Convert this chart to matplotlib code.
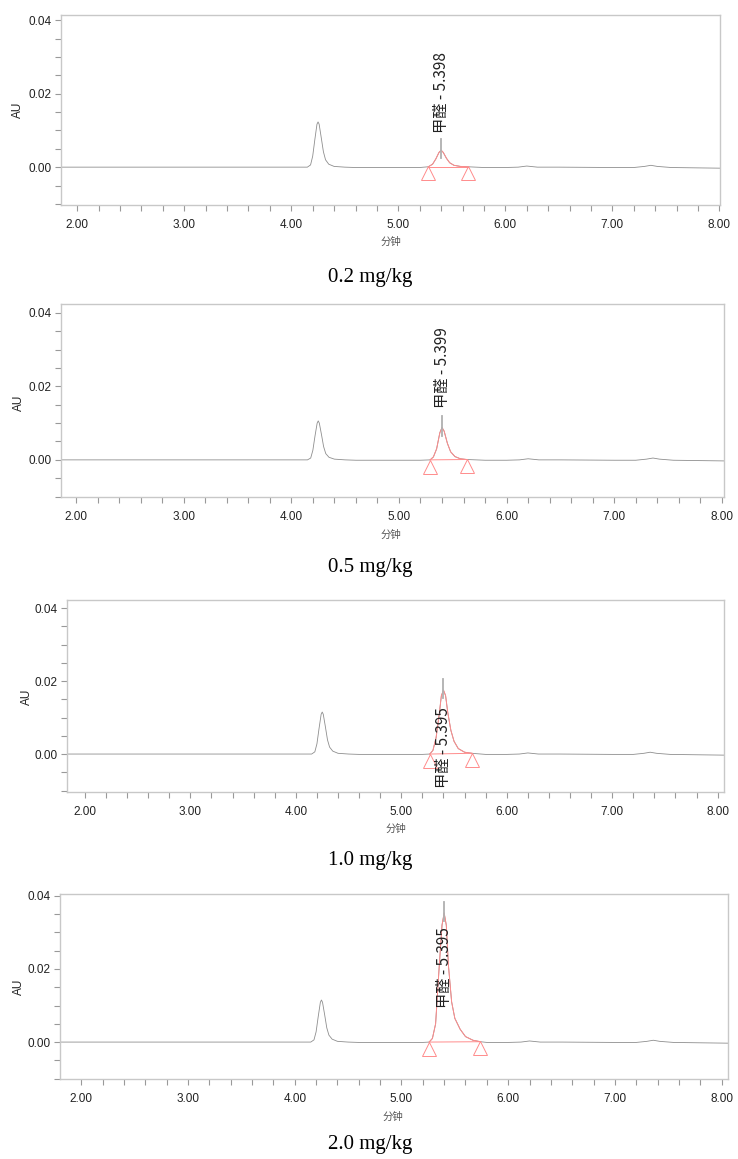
"""Four HPLC chromatograms of formaldehyde spiked at increasing levels."""

import matplotlib

matplotlib.use("Agg")
import matplotlib.pyplot as plt
import numpy as np
from matplotlib.transforms import offset_copy

plt.rcParams["font.family"] = ["Liberation Sans", "Noto Sans CJK SC", "DejaVu Sans"]

CAPTIONS = ["0.2 mg/kg", "0.5 mg/kg", "1.0 mg/kg", "2.0 mg/kg"]
PEAK_NAME = "甲醛"
RET_TIMES = [5.398, 5.399, 5.395, 5.395]

# baseline (minutes, AU)
BASE_T = [1.80, 2.5, 3.0, 3.5, 4.0, 4.12, 4.6, 5.0, 5.2, 5.8, 6.0, 6.12, 6.2,
          6.3, 6.5, 7.0, 7.2, 7.3, 7.36, 7.42, 7.55, 7.8, 8.06]
BASE_AU = [0.0, 0.0, 0.0, 0.0, 0.0, 0.0, -0.0001, -0.0001, -0.0001, -0.0001,
           -0.0001, 0.0, 0.0003, 0.0, 0.0, -0.0001, -0.0001, 0.0002, 0.0005,
           0.0002, -0.0001, -0.0002, -0.0003]

# unassigned peak near 4.25 min
PEAK1_T = [4.15, 4.18, 4.20, 4.22, 4.24, 4.25, 4.26, 4.28, 4.30, 4.32, 4.35, 4.40, 4.50]
PEAK1_AU = [
    [0.0, 0.0006, 0.0030, 0.0075, 0.0117, 0.0123, 0.0117, 0.0080, 0.0042, 0.0020, 0.0008, 0.0002, 0.0],
    [0.0, 0.0005, 0.0026, 0.0065, 0.0100, 0.0106, 0.0100, 0.0069, 0.0036, 0.0017, 0.0007, 0.0002, 0.0],
    [0.0, 0.0006, 0.0028, 0.0070, 0.0109, 0.0115, 0.0109, 0.0075, 0.0039, 0.0019, 0.0008, 0.0002, 0.0],
    [0.0, 0.0006, 0.0028, 0.0070, 0.0109, 0.0115, 0.0109, 0.0075, 0.0039, 0.0019, 0.0008, 0.0002, 0.0],
]

# formaldehyde peak, integration start to end
HCHO_T = [
    [5.28, 5.32, 5.35, 5.38, 5.40, 5.42, 5.45, 5.48, 5.52, 5.58, 5.65],
    [5.29, 5.32, 5.35, 5.38, 5.40, 5.42, 5.45, 5.48, 5.52, 5.57, 5.63],
    [5.27, 5.30, 5.33, 5.36, 5.38, 5.40, 5.42, 5.44, 5.47, 5.50, 5.54, 5.60, 5.67],
    [5.26, 5.29, 5.32, 5.35, 5.38, 5.40, 5.42, 5.44, 5.47, 5.50, 5.55, 5.60, 5.67, 5.74],
]
HCHO_AU = [
    [0.0001, 0.0008, 0.0022, 0.0040, 0.0046, 0.0040, 0.0024, 0.0012, 0.0005, 0.0002, 0.0001],
    [0.0, 0.0008, 0.0030, 0.0074, 0.0088, 0.0078, 0.0045, 0.0022, 0.0009, 0.0003, 0.0001],
    [0.0, 0.0010, 0.0045, 0.0110, 0.0160, 0.0175, 0.0160, 0.0115, 0.0065, 0.0035, 0.0015, 0.0005, 0.0002],
    [0.0, 0.0010, 0.0050, 0.0190, 0.0320, 0.0353, 0.0320, 0.0210, 0.0110, 0.0065, 0.0035, 0.0015, 0.0005, 0.0001],
]

# layout, in pixels of the 738x1159 canvas
W, H = 738, 1159
AX_BOX = [(61, 15, 720, 205), (61, 304, 724, 497), (67, 600, 724, 792), (60, 894, 728, 1079)]
XLIMS = [(1.848, 8.006), (1.86, 8.02), (1.83, 8.06), (1.80, 8.06)]
YLIMS = [(-0.0103, 0.0414), (-0.0101, 0.0424), (-0.0104, 0.0422), (-0.0101, 0.0405)]
AU_POS = [(18, 110), (19, 403), (27, 697), (19, 987)]
MIN_POS = [(391, 242), (391, 535), (396, 829), (393, 1117)]
CAP_POS = [(370, 277), (370, 568), (370, 860), (370, 1145)]
LABEL_Y = [0.0093, 0.0141, -0.0093, 0.0093]

GRAY = "#8e8e8e"
RED = "#ff8c8c"
FRAME = "#c8c8c8"


def trace(i):
    lo1, hi1 = PEAK1_T[0], PEAK1_T[-1]
    lo2, hi2 = HCHO_T[i][0], HCHO_T[i][-1]
    pts = [(t, a) for t, a in zip(BASE_T, BASE_AU)
           if not (lo1 <= t <= hi1 or lo2 <= t <= hi2)]
    pts += list(zip(PEAK1_T, PEAK1_AU[i])) + list(zip(HCHO_T[i], HCHO_AU[i]))
    pts.sort()
    return np.array(pts).T


def fx(px):
    return px / W


def fy(py):
    return 1 - py / H


def main() -> None:
    fig = plt.figure(figsize=(W / 100, H / 100), dpi=100)
    for i, (l, t, r, b) in enumerate(AX_BOX):
        ax = fig.add_axes([fx(l), fy(b), (r - l) / W, (b - t) / H])
        tt, au = trace(i)
        ax.plot(tt, au, color=GRAY, lw=0.6)

        ht, ha = HCHO_T[i], HCHO_AU[i]
        ax.plot(ht, ha, color=RED, lw=0.7)
        ax.plot([ht[0], ht[-1]], [ha[0], ha[-1]], color=RED, lw=0.7)
        tri = offset_copy(ax.transData, fig=fig, y=-4.8, units="points")
        ax.plot([ht[0], ht[-1]], [ha[0], ha[-1]], "^", ms=9.5, mfc="none",
                mec=RED, mew=0.7, transform=tri)
        apex = max(ha)
        ax.plot([RET_TIMES[i]] * 2, [apex - 0.0022, apex + 0.003], color="#b0b0b0", lw=1.3)
        ax.text(RET_TIMES[i] + 0.005, LABEL_Y[i], f"{PEAK_NAME} - {RET_TIMES[i]:.3f}",
                rotation=90, ha="center", va="bottom", fontsize=11, color="#222222",
                family=["Noto Sans CJK SC", "DejaVu Sans"])

        ax.set_xlim(*XLIMS[i])
        ax.set_ylim(*YLIMS[i])
        ax.set_xticks(np.arange(2, 9))
        ax.set_xticklabels([f"{v:.2f}" for v in range(2, 9)])
        ax.set_xticks(np.arange(2, 8.01, 0.2), minor=True)
        ax.set_yticks([0.0, 0.02, 0.04])
        ax.set_yticklabels(["0.00", "0.02", "0.04"])
        ax.set_yticks(np.arange(-0.01, 0.0401, 0.005), minor=True)
        ax.tick_params(which="both", direction="out", length=4, width=0.8,
                       color="#999999", labelsize=8.5, labelcolor="#222222")
        ax.tick_params(axis="x", pad=6)
        ax.tick_params(axis="y", pad=3)
        for s in ax.spines.values():
            s.set_color(FRAME)
            s.set_linewidth(1.0)

        fig.text(fx(AU_POS[i][0]), fy(AU_POS[i][1]), "AU", rotation=90,
                 ha="center", va="center", fontsize=8.5, color="#222222")
        fig.text(fx(MIN_POS[i][0]), fy(MIN_POS[i][1]), "分钟", ha="center", va="center",
                 fontsize=7.5, color="#555555", family=["Noto Sans CJK SC"])
        fig.text(fx(CAP_POS[i][0]), fy(CAP_POS[i][1]), CAPTIONS[i], ha="center",
                 va="center", fontsize=15, color="black", family=["Liberation Serif"])

    fig.savefig("out.png", dpi=100)


if __name__ == "__main__":
    main()
